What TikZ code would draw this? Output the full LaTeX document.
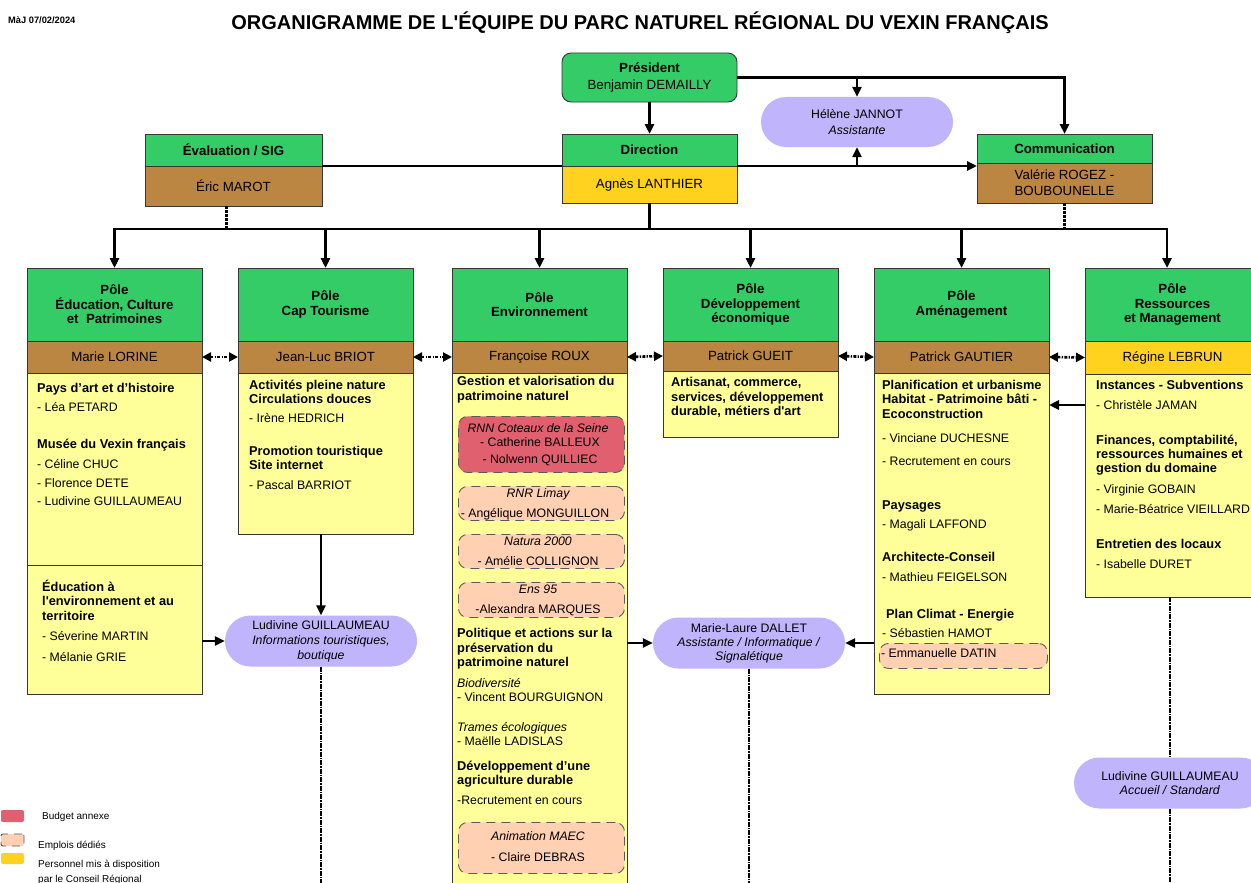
\documentclass[tikz,border=0pt]{standalone}
\usepackage{fontspec}
\setmainfont{Liberation Sans}
\usetikzlibrary{arrows.meta,shapes.misc}
\definecolor{cgreen}{RGB}{51,204,102}
\definecolor{cbrown}{RGB}{187,133,66}
\definecolor{cyel}{RGB}{255,255,153}
\definecolor{cgold}{RGB}{255,210,31}
\definecolor{clav}{RGB}{192,181,252}
\definecolor{cred}{RGB}{224,96,112}
\definecolor{cpeach}{RGB}{255,208,178}
\definecolor{cborder}{RGB}{55,55,55}
\definecolor{cdash}{RGB}{90,90,90}
\newcommand\myfh{\fontsize{13.3}{14.5}\selectfont\bfseries}
\newcommand\myfn{\fontsize{13.3}{16}\selectfont}
\newcommand\myfr{\fontsize{12.3}{15}\selectfont}
\newcommand\myfb{\fontsize{12.8}{14.5}\selectfont\bfseries}
\newcommand\myfi{\fontsize{12.3}{15}\selectfont\itshape}
\newcommand\myfl{\fontsize{10}{12}\selectfont}
\tikzset{
 conn/.style={line width=2.6pt, black},
 arr/.style={conn, -{Triangle[length=10pt,width=9pt]}},
 dashv/.style={line width=2.6pt, dash pattern=on 3pt off 1pt},
 dashd/.style={line width=2.4pt, dash pattern=on 5pt off 1pt on 1.5pt off 1pt},
 dda/.style={line width=2.6pt, dash pattern=on 3pt off 1.3pt on 1.3pt off 1.3pt, {Triangle[length=9pt,width=9pt]}-{Triangle[length=9pt,width=9pt]}},
 boxbase/.style={draw=cborder, line width=0.9pt, anchor=north west, inner sep=0pt, outer sep=0pt, align=center},
 hdr/.style={boxbase, fill=cgreen, font=\myfh, minimum width=175pt, minimum height=73pt},
 nbar/.style={boxbase, fill=cbrown, font=\myfn, minimum width=175pt, minimum height=32pt},
 body/.style={boxbase, fill=cyel, minimum width=175pt},
 pill/.style={rounded rectangle, fill=clav, inner sep=0pt, minimum width=192pt, minimum height=51pt, align=center},
 dbox/.style={draw=cdash, line width=0.9pt, dash pattern=on 9pt off 6pt, rounded corners=9pt, anchor=north west, inner sep=0pt, minimum width=166pt},
 tl/.style={anchor=west, inner sep=0pt, text height=8.5pt, text depth=0pt, font=\myfr},
 tb/.style={tl, font=\myfb},
 ti/.style={tl, font=\myfi},
 tc/.style={tl, anchor=center},
 tci/.style={ti, anchor=center},
 lg/.style={tl, font=\myfl},
}
\begin{document}
\begin{tikzpicture}[x=1pt,y=-1pt]
\useasboundingbox (0,0) rectangle (1251,883);
\fill[white] (0,0) rectangle (1251,883);
\clip (0,0) rectangle (1251,883);

% title
\node[tl, font=\fontsize{9.3}{11}\selectfont\bfseries] (maj) at (8,19) {MàJ 07/02/2024};
\node[inner sep=0pt, font=\fontsize{20}{22}\selectfont\bfseries] (title) at (640,23) {ORGANIGRAMME DE L\textquotesingle ÉQUIPE DU PARC NATUREL RÉGIONAL DU VEXIN FRANÇAIS};

% top level
\node[boxbase, fill=cgreen, rounded corners=9pt, minimum width=175pt, minimum height=49pt, font=\fontsize{13.3}{17}\selectfont] (pres) at (562,53) {\textbf{Président}\\Benjamin DEMAILLY};
\node[pill, minimum height=50pt, font=\fontsize{12.3}{16}\selectfont] (hel) at (857,122) {Hélène JANNOT\\\textit{Assistante}};
\node[boxbase, fill=cgreen, font=\myfh, minimum width=177pt, minimum height=32pt] (evh) at (145,134) {Évaluation / SIG};
\node[boxbase, fill=cbrown, font=\myfn, minimum width=177pt, minimum height=40pt] (evn) at (145,166) {Éric MAROT};
\node[boxbase, fill=cgreen, font=\myfh, minimum width=175pt, minimum height=32pt] (dirh) at (562,134) {Direction};
\node[boxbase, fill=cgold, font=\myfn, minimum width=175pt, minimum height=37pt] (dirn) at (562,166) {Agnès LANTHIER};
\node[boxbase, fill=cgreen, font=\myfh, minimum width=175pt, minimum height=29pt] (comh) at (977,134) {Communication};
\node[boxbase, fill=cbrown, font=\myfn, minimum width=175pt, minimum height=40pt] (comn) at (977,163) {Valérie ROGEZ -\\BOUBOUNELLE};

% poles: headers
\node[hdr] (p1h) at (27,268) {Pôle\\Éducation, Culture\\et\ \ Patrimoines};
\node[hdr] (p2h) at (238,268) {Pôle\\Cap Tourisme};
\node[hdr] (p3h) at (452,268) {Pôle\\Environnement};
\node[hdr] (p4h) at (663,268) {Pôle\\Développement\\économique};
\node[hdr] (p5h) at (874,268) {Pôle\\Aménagement};
\node[hdr] (p6h) at (1085,268) {Pôle\\Ressources\\et Management};
% name bars
\node[nbar] (p1n) at (27,341) {Marie LORINE};
\node[nbar] (p2n) at (238,341) {Jean-Luc BRIOT};
\node[nbar] (p3n) at (452,341) {Françoise ROUX};
\node[nbar, minimum height=30pt] (p4n) at (663,341) {Patrick GUEIT};
\node[nbar] (p5n) at (874,341) {Patrick GAUTIER};
\node[nbar, fill=cgold, minimum height=33pt] (p6n) at (1085,341) {Régine LEBRUN};
% bodies
\node[body, minimum height=192pt] (p1b) at (27,373) {};
\node[body, minimum height=129pt] (p1c) at (27,565) {};
\node[body, minimum height=161pt] (p2b) at (238,373) {};
\node[body, minimum height=530pt] (p3b) at (452,373) {};
\node[body, minimum height=66pt] (p4b) at (663,371) {};
\node[body, minimum height=321pt] (p5b) at (874,373) {};
\node[body, minimum height=223pt] (p6b) at (1085,374) {};

% Education texts
\node[tb] (e1) at (37,388) {Pays d’art et d’histoire};
\node[tl] (e2) at (37,407) {- Léa PETARD};
\node[tb] (e3) at (37,444) {Musée du Vexin français};
\node[tl] (e4) at (37,464) {- Céline CHUC};
\node[tl] (e5) at (37,483) {- Florence DETE};
\node[tl] (e6) at (37,501) {- Ludivine GUILLAUMEAU};
\node[tb] (e7) at (42,587) {Éducation à};
\node[tb] (e8) at (42,601) {l\textquotesingle environnement et au};
\node[tb] (e9) at (42,616) {territoire};
\node[tl] (e10) at (42,636) {- Séverine MARTIN};
\node[tl] (e11) at (42,657) {- Mélanie GRIE};

% Cap Tourisme texts
\node[tb] (c1) at (249,385) {Activités pleine nature};
\node[tb] (c2) at (249,399) {Circulations douces};
\node[tl] (c3) at (249,418) {- Irène HEDRICH};
\node[tb] (c4) at (249,451) {Promotion touristique};
\node[tb] (c5) at (249,465) {Site internet};
\node[tl] (c6) at (249,485) {- Pascal BARRIOT};

% Environnement texts
\node[tb] (v1) at (457,381) {Gestion et valorisation du};
\node[tb] (v2) at (457,396) {patrimoine naturel};
\node[dbox, fill=cred, minimum height=56pt] (rnn) at (458,416) {};
\node[tci] (v3) at (538,428) {RNN Coteaux de la Seine};
\node[tc] (v4) at (540,442) {- Catherine BALLEUX};
\node[tc] (v5) at (540,459) {- Nolwenn QUILLIEC};
\node[dbox, fill=cpeach, minimum height=34pt] (rnr) at (458,486) {};
\node[tci] (v6) at (538,493) {RNR Limay};
\node[tc] (v7) at (535,513) {- Angélique MONGUILLON};
\node[dbox, fill=cpeach, minimum height=34pt] (nat) at (458,534) {};
\node[tci] (v8) at (538,541) {Natura 2000};
\node[tc] (v9) at (538,561) {- Amélie COLLIGNON};
\node[dbox, fill=cpeach, minimum height=35pt] (ens) at (458,582) {};
\node[tci] (v10) at (538,589) {Ens 95};
\node[tc] (v11) at (538,609) {-Alexandra MARQUES};
\node[tb] (v12) at (457,633) {Politique et actions sur la};
\node[tb] (v13) at (457,648) {préservation du};
\node[tb] (v14) at (457,662) {patrimoine naturel};
\node[ti] (v15) at (457,683) {Biodiversité};
\node[tl] (v16) at (457,697) {- Vincent BOURGUIGNON};
\node[ti] (v17) at (457,727) {Trames écologiques};
\node[tl] (v18) at (457,741) {- Maëlle LADISLAS};
\node[tb] (v19) at (457,766) {Développement d’une};
\node[tb] (v20) at (457,780) {agriculture durable};
\node[tl] (v21) at (457,800) {-Recrutement en cours};
\node[dbox, fill=cpeach, minimum height=51pt] (maec) at (458,822) {};
\node[tci] (v22) at (538,836) {Animation MAEC};
\node[tc] (v23) at (538,857) {- Claire DEBRAS};

% Developpement texts
\node[tb] (d1) at (671,382) {Artisanat, commerce,};
\node[tb] (d2) at (671,397) {services, développement};
\node[tb] (d3) at (671,411) {durable, métiers d\textquotesingle art};

% Amenagement texts
\node[tb] (m1) at (882,385) {Planification et urbanisme};
\node[tb] (m2) at (882,399) {Habitat - Patrimoine bâti -};
\node[tb] (m3) at (882,414) {Ecoconstruction};
\node[tl] (m4) at (882,438) {- Vinciane DUCHESNE};
\node[tl] (m5) at (882,461) {- Recrutement en cours};
\node[tb] (m6) at (882,505) {Paysages};
\node[tl] (m7) at (882,524) {- Magali LAFFOND};
\node[tb] (m8) at (882,557) {Architecte-Conseil};
\node[tl] (m9) at (882,577) {- Mathieu FEIGELSON};
\node[tb] (m10) at (886,614) {Plan Climat - Energie};
\node[tl] (m11) at (882,633) {- Sébastien HAMOT};
\node[dbox, fill=cpeach, minimum width=168pt, minimum height=25pt] (datin) at (879,643) {};
\node[tl] (m12) at (881,653) {- Emmanuelle DATIN};

% Ressources texts
\node[tb] (r1) at (1096,385) {Instances - Subventions};
\node[tl] (r2) at (1096,405) {- Christèle JAMAN};
\node[tb] (r3) at (1096,440) {Finances, comptabilité,};
\node[tb] (r4) at (1096,454) {ressources humaines et};
\node[tb] (r5) at (1096,468) {gestion du domaine};
\node[tl] (r6) at (1096,489) {- Virginie GOBAIN};
\node[tl] (r7) at (1096,509) {- Marie-Béatrice VIEILLARD};
\node[tb] (r8) at (1096,544) {Entretien des locaux};
\node[tl] (r9) at (1096,564) {- Isabelle DURET};

% pills
\node[pill, font=\fontsize{12.3}{15}\selectfont] (tour) at (321,641) {Ludivine GUILLAUMEAU\\\textit{Informations touristiques,}\\\textit{boutique}};
\node[pill, font=\fontsize{12.3}{14}\selectfont] (ml) at (749,643) {Marie-Laure DALLET\\\textit{Assistante / Informatique /}\\\textit{Signalétique}};
\node[pill, font=\fontsize{12.3}{13.5}\selectfont] (acc) at (1170,783) {Ludivine GUILLAUMEAU\\\textit{Accueil / Standard}};

% legend
\node[boxbase, draw=none, fill=cred, rounded corners=2pt, minimum width=23pt, minimum height=12pt] (lg1) at (1,810) {};
\node[lg] (lt1) at (42,815) {Budget annexe};
\node[boxbase, draw=cdash, dash pattern=on 8pt off 6pt, fill=cpeach, rounded corners=2pt, minimum width=23pt, minimum height=12pt] (lg2) at (1,834) {};
\node[lg] (lt2) at (38,844) {Emplois dédiés};
\node[boxbase, draw=none, fill=cgold, rounded corners=2pt, minimum width=23pt, minimum height=11pt] (lg3) at (1,853) {};
\node[lg] (lt3) at (38,863) {Personnel mis à disposition};
\node[lg] (lt4) at (38,878) {par le Conseil Régional};

% helper coordinates
\coordinate (busL) at (114.5,229);
\coordinate (busR) at (1167,229);
\coordinate (r405) at (0,405);
\coordinate (bot) at (0,895);

% connectors top
\draw[arr] (pres.south) -- (dirh.north);
\draw[arr] (pres.east) -- (pres.east -| comh.north) -- (comh.north);
\draw[arr] (pres.east -| hel.north) -- (hel.north);
\draw[conn] (evh.south east) -- (dirh.south west);
\draw[arr] (dirn.north east) -- (dirn.north east -| comh.west);
\draw[arr] (dirn.north east -| hel.south) -- (hel.south);
\draw[conn] (dirn.south) -- (dirn.south |- busL);
\draw[dashv] ([xshift=-7pt]evn.south) -- ([xshift=-7pt]evn.south |- busL);
\draw[dashv] (comn.south) -- (comn.south |- busL);
% bus
\draw[conn, {Triangle[length=10pt,width=9pt]}-{Triangle[length=10pt,width=9pt]}] (p1h.north) -- (busL) -- (busR) -- (busR |- p6h.north);
\draw[arr] (p2h.north |- busL) -- (p2h.north);
\draw[arr] (p3h.north |- busL) -- (p3h.north);
\draw[arr] (p4h.north |- busL) -- (p4h.north);
\draw[arr] (p5h.north |- busL) -- (p5h.north);
% between poles
\draw[dda] (p1n.east) -- (p2n.west);
\draw[dda] (p2n.east) -- (p3n.west);
\draw[dda] (p3n.east) -- (p4n.west);
\draw[dda] (p4n.east) -- (p5n.west);
\draw[dda] (p5n.east) -- (p6n.west);
\draw[arr] (p6b.west |- r405) -- (p5b.east |- r405);
% pills
\draw[arr] (tour.north |- p2b.south) -- (tour.north);
\draw[arr] (tour.west -| p1c.east) -- (tour.west);
\draw[dashd] (tour.south) -- (tour.south |- bot);
\draw[arr] (ml.west -| p3b.east) -- (ml.west);
\draw[arr] (ml.east -| p5b.west) -- (ml.east);
\draw[dashd] (ml.south) -- (ml.south |- bot);
\draw[dashd] (acc.north |- p6b.south) -- (acc.north);
\draw[dashd] (acc.south) -- (acc.south |- bot);
\end{tikzpicture}
\end{document}
